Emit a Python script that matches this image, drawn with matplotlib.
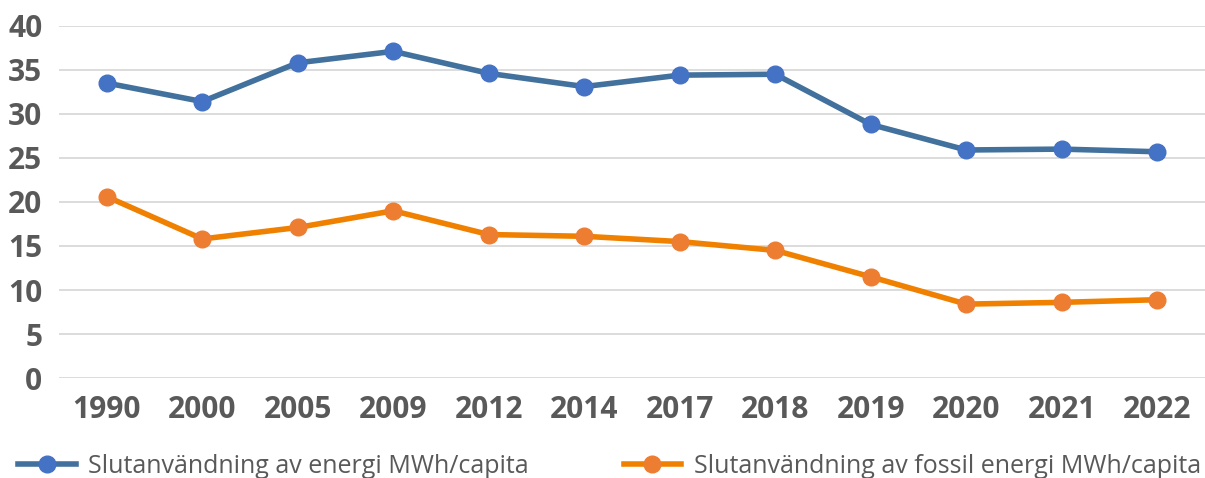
import matplotlib.pyplot as plt
import numpy as np

years = ['1990', '2000', '2005', '2009', '2012', '2014', '2017', '2018', '2019', '2020', '2021', '2022']
energi = [33.5, 31.4, 35.8, 37.1, 34.6, 33.1, 34.4, 34.5, 28.8, 25.9, 26.0, 25.7]
fossil = [20.6, 15.8, 17.1, 19.0, 16.3, 16.1, 15.5, 14.5, 11.5, 8.4, 8.6, 8.9]
labels = ['Slutanvändning av energi MWh/capita',
          'Slutanvändning av fossil energi MWh/capita']

plt.rcParams['font.family'] = ['Open Sans', 'DejaVu Sans']

fig = plt.figure(figsize=(12.05, 4.78), dpi=100)
ax = fig.add_axes([0.049, 0.209, 0.951, 0.737])

x = np.arange(len(years))
ax.plot(x, energi, color='#41719C', lw=4, marker='o', ms=12,
        mfc='#4472C4', mec='#4472C4', label=labels[0], zorder=3)
ax.plot(x, fossil, color='#F08000', lw=4, marker='o', ms=12,
        mfc='#ED7D31', mec='#ED7D31', label=labels[1], zorder=3)

ax.set_xlim(-0.5, len(years) - 0.5)
ax.set_ylim(0, 40)
ax.set_yticks(range(0, 41, 5))
ax.set_xticks(x)
ax.set_xticklabels(years)
ax.grid(axis='y', color='#D9D9D9', lw=1.3)
ax.set_axisbelow(True)
for s in ax.spines.values():
    s.set_visible(False)
ax.tick_params(length=0, labelsize=21.5, labelcolor='#595959')
ax.tick_params(axis='x', pad=12)
ax.tick_params(axis='y', pad=12)
for t in ax.get_xticklabels() + ax.get_yticklabels():
    t.set_fontweight('bold')

fig.legend(loc='center left', bbox_to_anchor=(0.015, 0.025), ncol=2, frameon=False,
           fontsize=18, labelcolor='#595959', handlelength=2.3, handletextpad=0.5,
           columnspacing=3.8, borderpad=0, borderaxespad=0)

fig.savefig('out.png', dpi=100)
